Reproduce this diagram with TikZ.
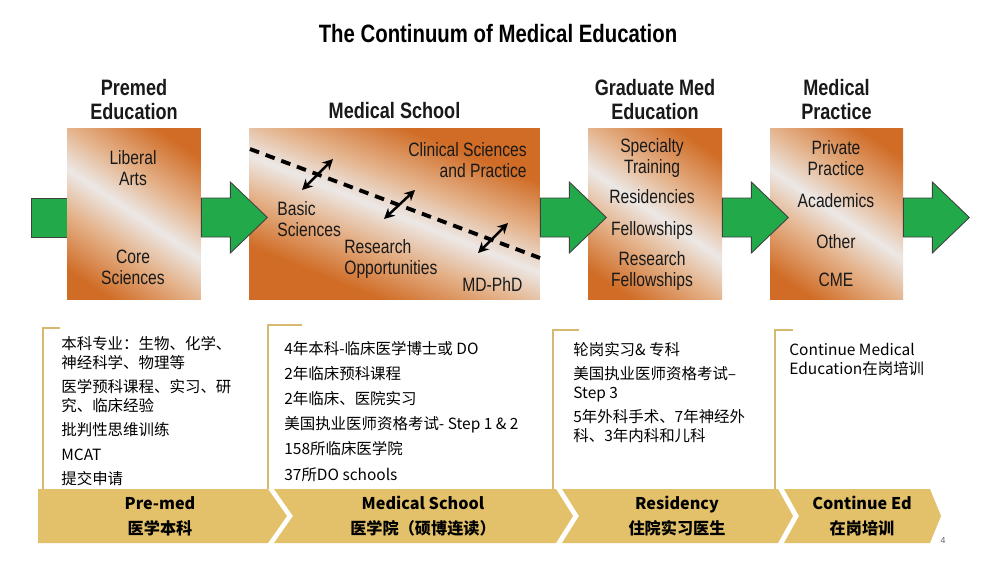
\documentclass[tikz,border=0pt]{standalone}
\usepackage{fontspec}
\setmainfont{Liberation Sans}
\newfontfamily\condfont[FakeStretch=0.81]{Liberation Sans}
\newfontfamily\cjkfont{Noto Sans CJK SC}
\usetikzlibrary{positioning, arrows.meta}

\definecolor{stageorange}{RGB}{208,108,38}
\definecolor{stagepeach}{RGB}{228,178,138}
\definecolor{stagelight}{RGB}{236,232,230}
\definecolor{flowgreen}{RGB}{34,170,74}
\definecolor{goldband}{RGB}{226,193,106}
\definecolor{goldline}{RGB}{214,184,112}

\pgfdeclareverticalshading{stageband}{100bp}{color(0bp)=(stageorange); color(36bp)=(stageorange); color(44bp)=(stagepeach); color(50bp)=(stagelight); color(56bp)=(stagepeach); color(64bp)=(stageorange); color(100bp)=(stageorange)}

\begin{document}
\begin{tikzpicture}[
    x=0.02cm, y=-0.02cm,
    >={Stealth[length=6pt, width=6pt]},
    stage/.style={rectangle, inner sep=0pt, minimum height=3.44cm, fill=stageorange,
        path picture={\shade[shading=stageband, shading angle=#1] (path picture bounding box.center) ++(-150,-150) rectangle ++(300,300);}},
    stage/.default=-34,
    heading/.style={font=\condfont\bfseries\fontsize{12.7}{13.6}\selectfont, align=center, inner sep=0pt, text=black!90},
    stagetext/.style={font=\condfont\fontsize{11}{11.9}\selectfont, align=center, inner sep=0pt, text=black!90},
    flow/.style={fill=flowgreen, draw=black!75, line width=0.5pt},
    bracket/.style={draw=goldline, line width=1.1pt},
    band/.style={fill=goldband},
    items/.style={font=\cjkfont\fontsize{8.8}{10.8}\selectfont, align=left, anchor=north west, inner sep=0pt},
    tag/.style={font=\cjkfont\bfseries\fontsize{9.2}{14}\selectfont, align=center, inner sep=0pt}
]

\fill[white] (0,0) rectangle (999,562);
\useasboundingbox (0,0) rectangle (999,562);

% Title
\node[font=\condfont\bfseries\fontsize{14.3}{16}\selectfont, inner sep=0pt] (title) at (498,34) {The Continuum of Medical Education};

% Feed into premed
\draw[flow] (31,198) rectangle (67,237);

% Stage boxes
\node[stage, minimum width=2.68cm] (prem) at (134,214) {};
\node[stage=-22, minimum width=5.82cm] (med) at (394.5,214) {};
\node[stage, minimum width=2.68cm] (grad) at (655,214) {};
\node[stage, minimum width=2.66cm] (prac) at (836.5,214) {};

% Headings
\node[heading, above=0.16cm of prem] (premhead) {Premed\\Education};
\node[heading, above=0.18cm of med] (medhead) {Medical School};
\node[heading, above=0.16cm of grad] (gradhead) {Graduate Med\\Education};
\node[heading, above=0.16cm of prac] (prachead) {Medical\\Practice};

% Green arrows between stages
\foreach \b in {prem,med,grad,prac}
{
    \draw[flow] (\b.east |- 0,198) -- ++(29,0) -- ++(0,-16) -- ++(37,35.5) -- ++(-37,35.5) -- ++(0,-16) -- ++(-29,0) -- cycle;
}

% Premed contents
\node[stagetext] (liberal) at (133,168) {Liberal\\Arts};
\node[stagetext] (core) at (133,267) {Core\\Sciences};

% Medical school contents
\draw[line width=2.2pt, dash pattern=on 5.5pt off 4pt] (250,149) coordinate (dashA) -- (540,258) coordinate (dashB);
\node[stagetext, align=right, anchor=east] (clin) at (527,160) {Clinical Sciences\\and Practice};
\node[stagetext, align=left, anchor=west] (basic) at (277,219) {Basic\\Sciences};
\node[stagetext, align=left, anchor=west] (research) at (344,259) {Research\\Opportunities};
\node[stagetext, anchor=west] (mdphd) at (462,284) {MD-PhD};
\coordinate (b1) at (302,190);
\coordinate (c1) at (333,159);
\coordinate (b2) at (384,219);
\coordinate (c2) at (415,190);
\coordinate (b3) at (478,253);
\coordinate (c3) at (508,223);
\foreach \i in {1,2,3}
{
    \draw[<->, line width=1.4pt] (b\i) -- (c\i);
}

% Graduate med contents
\node[stagetext] (spec) at (652,158) {Specialty\\Training};
\node[stagetext] (resid) at (652,197) {Residencies};
\node[stagetext] (fellow) at (652,230) {Fellowships};
\node[stagetext] (resfellow) at (652,271) {Research\\Fellowships};

% Practice contents
\node[stagetext] (private) at (836,158) {Private\\Practice};
\node[stagetext] (acad) at (836,201) {Academics};
\node[stagetext] (other) at (836,242) {Other};
\node[stagetext] (cme) at (836,280) {CME};

% Gold brackets
\draw[bracket] (60,328) -- (43,328) -- (43,489);
\draw[bracket] (302,325) -- (268,325) -- (268,489);
\draw[bracket] (579,330) -- (553,330) -- (553,489);
\draw[bracket] (793,330) -- (775,330) -- (775,489);

% Lists
\node[items] (premlist) at (61,336) {本科专业：生物、化学、\\神经科学、物理等\\[3pt]医学预科课程、实习、研\\究、临床经验\\[3pt]批判性思维训练\\[3pt]MCAT\\[3pt]提交申请};
\node[items] (medlist) at (284,341) {4年本科-临床医学博士或 DO\\[3.5pt]2年临床预科课程\\[3.5pt]2年临床、医院实习\\[3.5pt]美国执业医师资格考试- Step 1 \& 2\\[3.5pt]158所临床医学院\\[3.5pt]37所DO schools};
\node[items] (residlist) at (573,342) {轮岗实习\& 专科\\[3pt]美国执业医师资格考试–\\Step 3\\[3pt]5年外科手术、7年神经外\\科、3年内科和儿科};
\node[items] (edlist) at (789,343) {Continue Medical\\Education在岗培训};

% Chevron band
\fill[band] (38,489) -- (268,489) -- (287,516) -- (268,543) -- (38,543) -- cycle;
\fill[band] (274,489) -- (556,489) -- (573,516) -- (556,543) -- (274,543) -- (293,516) -- cycle;
\fill[band] (562,489) -- (778,489) -- (793,516) -- (778,543) -- (562,543) -- (579,516) -- cycle;
\fill[band] (784,489) -- (930,489) -- (941,516) -- (930,543) -- (784,543) -- (799,516) -- cycle;
\node[tag] (premtag) at (160,516) {Pre-med\\医学本科};
\node[tag] (medtag) at (423,516) {Medical School\\医学院（硕博连读）};
\node[tag] (residtag) at (677,516) {Residency\\住院实习医生};
\node[tag] (edtag) at (862,516) {Continue Ed\\在岗培训};

% Page number
\node[font=\fontsize{5}{6}\selectfont, text=black!60, inner sep=0pt] (pageno) at (943,540) {4};

\end{tikzpicture}
\end{document}
